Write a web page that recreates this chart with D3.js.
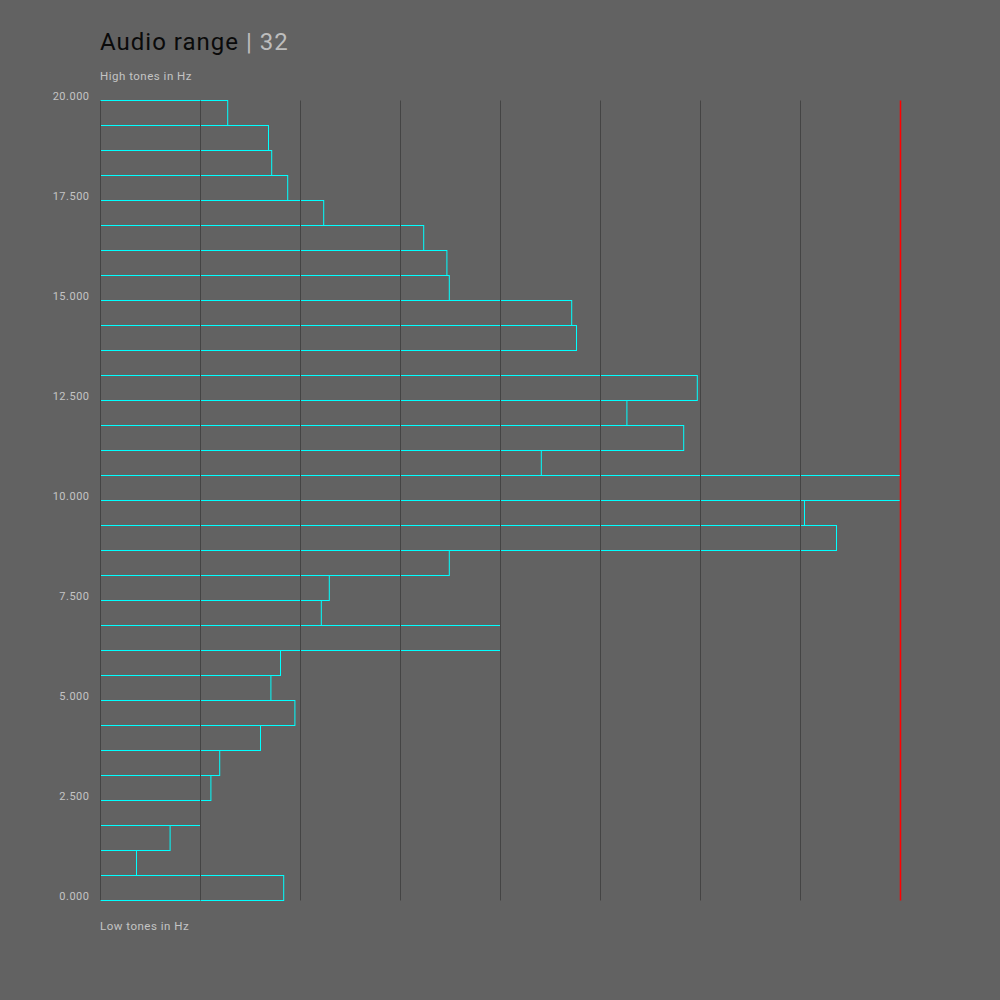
<!DOCTYPE html>
<html>
<head>
<meta charset="utf-8">
<script src="https://cdn.jsdelivr.net/npm/d3@7"></script>
<style>
    body { margin: 0; background: #626262; }
    svg { display: block; font-family: Roboto, "DejaVu Sans", sans-serif; }
</style>
</head>
<body>
<div id="chart"></div>
<script>
// audio range histogram, 32 frequency bins from 0 to 20 kHz

const binCount = 32;
const maxFreq = 20000;
// level per bin, lowest frequency first
const levels = [22.9, 4.5, 8.7, 12.5, 13.8, 14.9, 20.0, 24.3, 21.3, 22.5,
    50.0, 27.6, 28.6, 43.6, 92.0, 88.0, 100.0, 55.1, 72.9, 65.8,
    74.6, 0, 59.5, 58.9, 43.6, 43.3, 40.4, 27.9, 23.4, 21.4,
    21.0, 15.9];
const freqTicks = [0, 2500, 5000, 7500, 10000, 12500, 15000, 17500, 20000];
const gridTicks = [0, 12.5, 25, 37.5, 50, 62.5, 75, 87.5];

const margin = {top: 100, right: 100, bottom: 100, left: 100};
const width = 1000 - margin.left - margin.right;
const height = 1000 - margin.top - margin.bottom;

const svg = d3.select("#chart").append("svg")
    .attr("width", 1000)
    .attr("height", 1000);

svg.append("rect")
    .attr("width", 1000)
    .attr("height", 1000)
    .attr("fill", "#626262");

// title
let title = svg.append("text")
    .attr("x", margin.left)
    .attr("y", 50)
    .attr("font-size", 24)
    .attr("letter-spacing", 1);
title.append("tspan").attr("fill", "#0a0a0a").text("Audio range");
title.append("tspan").attr("fill", "#bdbdbd").text(" | " + binCount);

svg.append("text")
    .attr("x", margin.left)
    .attr("y", 80)
    .attr("font-size", 11.5)
    .attr("letter-spacing", 0.5)
    .attr("fill", "#c4c4c4")
    .text("High tones in Hz");

svg.append("text")
    .attr("x", margin.left)
    .attr("y", 930)
    .attr("font-size", 11.5)
    .attr("letter-spacing", 0.5)
    .attr("fill", "#c4c4c4")
    .text("Low tones in Hz");

const g = svg.append("g")
    .attr("transform", "translate(" + (margin.left + 0.5) + "," + (margin.top + 0.5) + ")");

// scales
const x = d3.scaleLinear()
    .domain([0, d3.max(levels)])
    .range([0, width]);

const y = d3.scaleLinear()
    .domain([0, maxFreq])
    .range([height, 0]);

const binSize = maxFreq / binCount;

// y axis labels (kHz with 3 decimals)
const yAxis = d3.axisLeft(y)
    .tickValues(freqTicks)
    .tickSize(0)
    .tickPadding(11)
    .tickFormat(d => (d / 1000).toFixed(3));

g.append("g")
    .attr("class", "y-axis")
    .call(yAxis)
    .call(ax => ax.select(".domain").remove())
    .call(ax => ax.selectAll("text")
        .attr("dy", "-0.1em")
        .attr("fill", "#c4c4c4")
        .attr("font-size", 11)
        .attr("letter-spacing", 0.5)
        .attr("font-family", "Roboto, 'DejaVu Sans', sans-serif"));

// bins as outlined rectangles
g.selectAll(".bin")
    .data(levels)
    .enter()
    .append("rect")
    .attr("class", "bin")
    .attr("x", 0)
    .attr("y", (d, i) => y((i + 1) * binSize))
    .attr("width", d => x(d))
    .attr("height", (d, i) => y(i * binSize) - y((i + 1) * binSize))
    .attr("fill", "none")
    .attr("stroke", "#00ffff")
    .attr("stroke-width", 1);

// vertical grid on top
g.selectAll(".grid")
    .data(gridTicks)
    .enter()
    .append("line")
    .attr("class", "grid")
    .attr("x1", d => x(d))
    .attr("x2", d => x(d))
    .attr("y1", 0)
    .attr("y2", height)
    .attr("stroke", "#444")
    .attr("stroke-width", 1);

// max marker
g.append("line")
    .attr("x1", x(d3.max(levels)))
    .attr("x2", x(d3.max(levels)))
    .attr("y1", 0)
    .attr("y2", height)
    .attr("stroke", "#ff0000")
    .attr("stroke-width", 1.5);
</script>
</body>
</html>
